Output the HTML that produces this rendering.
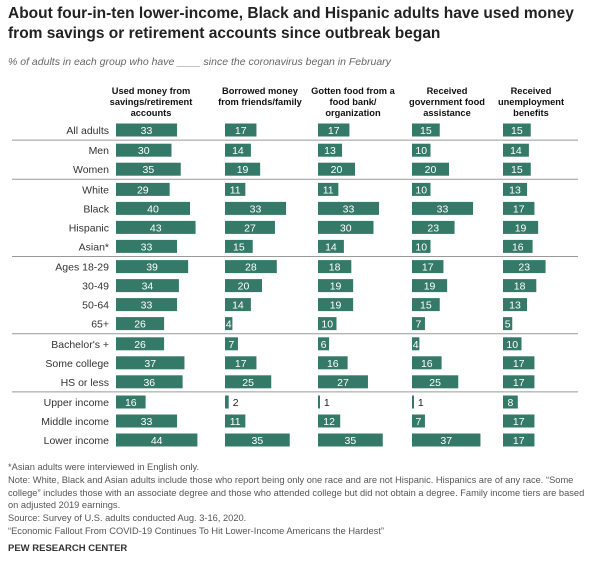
<!DOCTYPE html>
<html><head><meta charset="utf-8"><style>
body{margin:0;background:#fff;font-family:"Liberation Sans",Arial,sans-serif;}
#c{position:relative;width:600px;height:567px;overflow:hidden}
.t{position:absolute;left:8px;top:4px;font-size:15.5px;font-weight:bold;color:#222;line-height:20px;width:590px}
.s{position:absolute;left:8px;top:56px;font-size:10.5px;font-style:italic;color:#666}
.h{position:absolute;top:86px;font-size:9.3px;font-weight:bold;color:#111;text-align:center;line-height:11px;width:110px;white-space:nowrap}
.f{position:absolute;left:8px;font-size:9.3px;color:#555;line-height:12.5px;width:585px}
</style></head><body>
<div id="c">
<div class="t">About four-in-ten lower-income, Black and Hispanic adults have used money from savings or retirement accounts since outbreak began</div>
<div class="s">% of adults in each group who have ____ since the coronavirus began in February</div>
<div class="h" style="left:96px">Used money from<br>savings/retirement<br>accounts</div>
<div class="h" style="left:205px">Borrowed money<br>from friends/family</div>
<div class="h" style="left:298px">Gotten food from a<br>food bank/<br>organization</div>
<div class="h" style="left:392px">Received<br>government food<br>assistance</div>
<div class="h" style="left:476px">Received<br>unemployment<br>benefits</div>
<svg id="sv" width="600" height="567" style="position:absolute;left:0;top:0"></svg>
<div class="f" style="top:461px">*Asian adults were interviewed in English only.</div>
<div class="f" style="top:474px">Note: White, Black and Asian adults include those who report being only one race and are not Hispanic. Hispanics are of any race. “Some college” includes those with an associate degree and those who attended college but did not obtain a degree. Family income tiers are based on adjusted 2019 earnings.</div>
<div class="f" style="top:512px">Source: Survey of U.S. adults conducted Aug. 3-16, 2020.</div>
<div class="f" style="top:525px">“Economic Fallout From COVID-19 Continues To Hit Lower-Income Americans the Hardest”</div>
<div class="f" style="top:543px;font-weight:bold;color:#333;font-size:9.5px">PEW RESEARCH CENTER</div>
</div>
<script>
const categories=["All adults","Men","Women","White","Black","Hispanic","Asian*","Ages 18-29","30-49","50-64","65+","Bachelor's +","Some college","HS or less","Upper income","Middle income","Lower income"];
const savings=[33,30,35,29,40,43,33,39,34,33,26,26,37,36,16,33,44];
const borrowed=[17,14,19,11,33,27,15,28,20,14,4,7,17,25,2,11,35];
const foodBank=[17,13,20,11,33,30,14,18,19,19,10,6,16,27,1,12,35];
const govFood=[15,10,20,10,33,23,10,17,19,15,7,4,16,25,1,7,37];
const unemployment=[15,14,15,13,17,19,16,23,18,13,5,10,17,17,8,17,17];
const series=[savings,borrowed,foodBank,govFood,unemployment];
const seriesNames=["savings","borrowed","food-bank","gov-food","unemployment"];
const dividersAfter=[0,2,6,10,13];
const NS="http://www.w3.org/2000/svg",sv=document.getElementById('sv');
const colX=[116,225,318,412,503];
const k=1.85;
const xScale=(col,v)=>colX[col]+v*k;
const rowY=i=>130+i*19+1.2*((i>0?1:0)+(i>2?1:0)+(i>6?1:0)+(i>10?1:0)+(i>13?1:0));
function mk(t,a){const e=document.createElementNS(NS,t);for(const q in a)e.setAttribute(q,a[q]);sv.appendChild(e);return e;}
categories.forEach((c,i)=>{
 const y=rowY(i);
 const l=mk('text',{x:109,y:y+4,'text-anchor':'end','font-size':'10.5','fill':'#333','font-family':'Liberation Sans, Arial, sans-serif'});
 l.textContent=c;
 
 
 series.forEach((s,j)=>{
  const v=s[i],w=xScale(j,v)-colX[j];
  const r=mk('rect',{x:colX[j],y:y-6.5,width:Math.max(w,2),height:13,fill:'#357a68'});
  
  
  const inside=v>2;
  const t=mk('text',{x:inside?colX[j]+w/2:colX[j]+w+4,y:y+4,'text-anchor':inside?'middle':'start','font-size':'10.5',fill:inside?'#fff':'#222','font-family':'Liberation Sans, Arial, sans-serif'});
  t.textContent=v;
  
  
 });
});
dividersAfter.forEach(i=>{
 const y=(rowY(i)+rowY(i+1))/2;
 const ln=mk('line',{x1:12,x2:578,y1:y,y2:y,stroke:'#999','stroke-width':1});
 
 
});
</script>
</body></html>
